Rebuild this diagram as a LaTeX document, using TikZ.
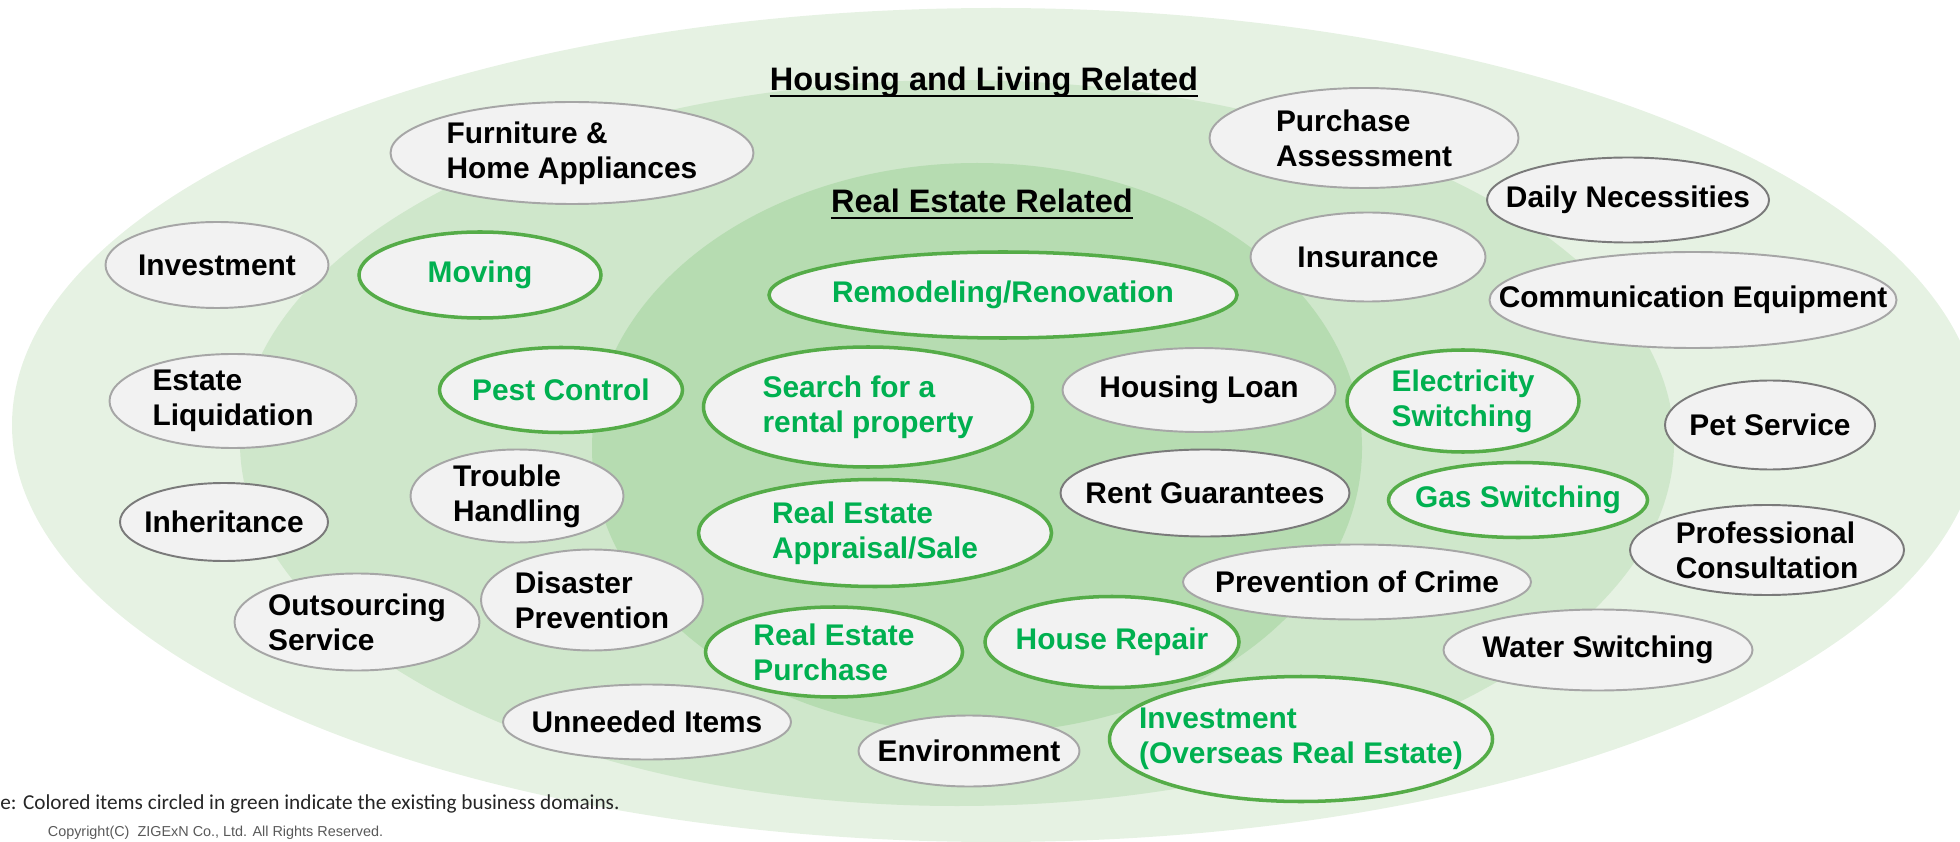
\documentclass[tikz,border=0pt]{standalone}
\usepackage{fontspec}
\setmainfont{Liberation Sans}
\newfontfamily\notefont{Carlito}
\usetikzlibrary{shapes.geometric}

\definecolor{outerbg}{HTML}{E6F2E3}
\definecolor{middlebg}{HTML}{CFE7CB}
\definecolor{innerbg}{HTML}{B6DCB1}
\definecolor{ovalfill}{HTML}{F2F2F2}
\definecolor{ovalgray}{HTML}{A6A6A6}
\definecolor{ovaldark}{HTML}{7A7A7A}
\definecolor{ovalgreen}{HTML}{55AC48}
\definecolor{textgreen}{HTML}{00B050}

\tikzset{
  oval/.style={ellipse, fill=ovalfill, draw=ovalgray, line width=1.1pt, inner sep=0pt},
  darkoval/.style={oval, draw=ovaldark},
  greenoval/.style={oval, draw=ovalgreen, line width=2pt},
  itemtext/.style={align=left, inner sep=0pt, font=\fontsize{17}{20}\selectfont\bfseries},
  greentext/.style={itemtext, text=textgreen},
  areatitle/.style={inner sep=0pt, font=\fontsize{18.5}{22}\selectfont\bfseries},
}

\begin{document}
\begin{tikzpicture}
\useasboundingbox (0,0) rectangle (39.2,16.82);
\begin{scope}
\clip (0,0) rectangle (39.2,16.82);
\fill[outerbg] (19.92,8.32) ellipse (19.68 and 8.34);
\fill[middlebg] (19.14,7.96) ellipse (14.34 and 7.26);
\fill[innerbg] (19.54,7.86) ellipse (7.70 and 5.70);
\end{scope}

% area titles
\node[areatitle, anchor=base] (housingtitle) at (19.68, 15.00) {Housing and Living Related};
\draw[line width=1.1pt] ([yshift=-2.6pt]housingtitle.base west) -- ([yshift=-2.6pt]housingtitle.base east);
\node[areatitle, anchor=base] (estatetitle) at (19.64, 12.56) {Real Estate Related};
\draw[line width=1.1pt] ([yshift=-2.6pt]estatetitle.base west) -- ([yshift=-2.6pt]estatetitle.base east);

% items
\node[oval, minimum width=7.26cm, minimum height=2.04cm, label={[itemtext]center:Furniture \&\\Home Appliances}] (furniture) at (11.44, 13.76) {};
\node[oval, minimum width=6.18cm, minimum height=2.00cm, label={[itemtext]center:Purchase\\Assessment}] (purchaseassess) at (27.28, 14.06) {};
\node[darkoval, minimum width=5.64cm, minimum height=1.70cm, label={[itemtext]center:Daily Necessities}] (daily) at (32.56, 12.82) {};
\node[oval, minimum width=4.46cm, minimum height=1.72cm, label={[itemtext]center:Investment}] (investment) at (4.34, 11.52) {};
\node[greenoval, minimum width=4.84cm, minimum height=1.72cm, label={[greentext]center:Moving}] (moving) at (9.60, 11.32) {};
\node[greenoval, minimum width=9.36cm, minimum height=1.72cm, label={[greentext]center:Remodeling/Renovation}] (remodeling) at (20.06, 10.92) {};
\node[oval, minimum width=4.70cm, minimum height=1.78cm, label={[itemtext]center:Insurance}] (insurance) at (27.36, 11.68) {};
\node[oval, minimum width=8.14cm, minimum height=1.92cm, label={[itemtext]center:Communication Equipment}] (communication) at (33.86, 10.82) {};

\node[oval, minimum width=4.94cm, minimum height=1.88cm, label={[itemtext]center:Estate\\Liquidation}] (liquidation) at (4.66, 8.80) {};
\node[greenoval, minimum width=4.86cm, minimum height=1.70cm, label={[greentext]center:Pest Control}] (pest) at (11.22, 9.02) {};
\node[greenoval, minimum width=6.58cm, minimum height=2.40cm, label={[greentext]center:Search for a\\rental property}] (rentalsearch) at (17.36, 8.68) {};
\node[oval, minimum width=5.46cm, minimum height=1.68cm, label={[itemtext]center:Housing Loan}] (loan) at (23.98, 9.02) {};
\node[greenoval, minimum width=4.64cm, minimum height=2.04cm, label={[greentext]center:Electricity\\Switching}] (electricity) at (29.26, 8.80) {};
\node[darkoval, minimum width=4.20cm, minimum height=1.78cm, label={[itemtext]center:Pet Service}] (pet) at (35.40, 8.32) {};

\node[oval, minimum width=4.26cm, minimum height=1.86cm, label={[itemtext]center:Trouble\\Handling}] (trouble) at (10.34, 6.90) {};
\node[darkoval, minimum width=4.16cm, minimum height=1.56cm, label={[itemtext]center:Inheritance}] (inheritance) at (4.48, 6.38) {};
\node[darkoval, minimum width=5.78cm, minimum height=1.74cm, label={[itemtext]center:Rent Guarantees}] (guarantees) at (24.10, 6.96) {};
\node[greenoval, minimum width=7.06cm, minimum height=2.14cm, label={[greentext]center:Real Estate\\Appraisal/Sale}] (appraisal) at (17.50, 6.16) {};
\node[greenoval, minimum width=5.18cm, minimum height=1.50cm, label={[greentext]center:Gas Switching}] (gas) at (30.36, 6.82) {};
\node[darkoval, minimum width=5.48cm, minimum height=1.80cm, label={[itemtext]center:Professional\\Consultation}] (professional) at (35.34, 5.82) {};
\node[oval, minimum width=6.96cm, minimum height=1.50cm, label={[itemtext]center:Prevention of Crime}] (crime) at (27.14, 5.18) {};

\node[oval, minimum width=4.44cm, minimum height=2.02cm, label={[itemtext]center:Disaster\\Prevention}] (disaster) at (11.84, 4.82) {};
\node[oval, minimum width=4.90cm, minimum height=1.94cm, label={[itemtext]center:Outsourcing\\Service}] (outsourcing) at (7.14, 4.38) {};
\node[greenoval, minimum width=5.14cm, minimum height=1.80cm, label={[greentext]center:Real Estate\\Purchase}] (repurchase) at (16.68, 3.78) {};
\node[greenoval, minimum width=5.08cm, minimum height=1.82cm, label={[greentext]center:House Repair}] (repair) at (22.24, 3.98) {};
\node[oval, minimum width=6.18cm, minimum height=1.62cm, label={[itemtext]center:Water Switching}] (water) at (31.96, 3.82) {};
\node[oval, minimum width=5.76cm, minimum height=1.50cm, label={[itemtext]center:Unneeded Items}] (unneeded) at (12.94, 2.38) {};
\node[oval, minimum width=4.42cm, minimum height=1.42cm, label={[itemtext]center:Environment}] (environment) at (19.38, 1.80) {};
\node[greenoval, minimum width=7.66cm, minimum height=2.50cm, label={[greentext]center:Investment\\(Overseas Real Estate)}] (overseas) at (26.02, 2.04) {};

% footnotes
\node[anchor=base west, inner sep=0pt, font=\notefont\fontsize{12.1}{14}\selectfont, text=black!85] (note) at (0, 0.64) {e: Colored items circled in green indicate the existing business domains.};
\node[anchor=base west, inner sep=0pt, font=\fontsize{8.2}{9}\selectfont, text=black!65] (copyright) at (0.95, 0.10) {Copyright(C)\ \ ZIGExN Co., Ltd. All Rights Reserved.};

\end{tikzpicture}
\end{document}
